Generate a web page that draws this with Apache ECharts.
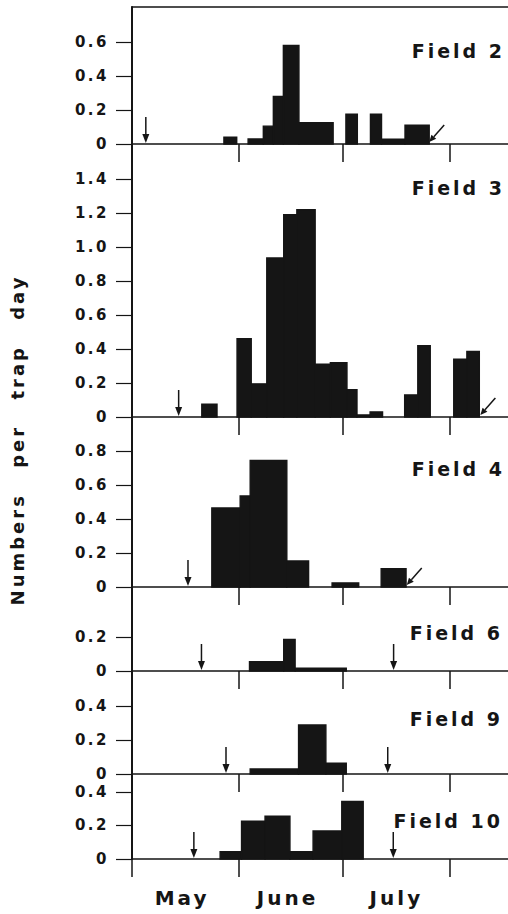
<!DOCTYPE html>
<html>
<head>
<meta charset="utf-8">
<title>Numbers per trap day</title>
<script src="https://cdn.jsdelivr.net/npm/echarts@6/dist/echarts.min.js"></script>
<style>
  html, body { margin: 0; padding: 0; background: #fff; }
  #main { width: 508px; height: 914px; }
  /* spaced-out lettering of the original figure */
  #main text[style*="15px"] { letter-spacing: 2.5px; }
  #main text[style*="19px"] { letter-spacing: 3px; }
  #main text[style*="20px"] { letter-spacing: 3px; }
  #main text[style*="18px"] { letter-spacing: 3px; word-spacing: 16px; }
</style>
</head>
<body>
<div id="main"></div>
<script>
// x = days since 1 May
var monthTicks = [0, 31, 61, 92];
var monthLabelDays = [14.5, 45, 76.5];
var monthNames = ['May', 'June', 'July'];

var fieldNames = ['Field 2', 'Field 3', 'Field 4', 'Field 6', 'Field 9', 'Field 10'];

// [start day, end day, numbers per trap day]
var field2Bars = [
  [26.6, 30.3, 0.04], [33.6, 38.0, 0.03], [38.0, 40.9, 0.105], [40.9, 43.8, 0.28],
  [43.8, 48.3, 0.58], [48.3, 58.2, 0.125], [61.9, 65.2, 0.175], [69.0, 72.2, 0.175],
  [72.2, 79.0, 0.028], [79.0, 86.0, 0.11]
];
var field3Bars = [
  [20.2, 24.6, 0.075], [30.4, 34.5, 0.46], [34.5, 39.0, 0.195], [39.0, 43.9, 0.935],
  [43.9, 47.7, 1.19], [47.7, 53.0, 1.22], [53.0, 57.4, 0.31], [57.4, 62.2, 0.32],
  [62.2, 65.1, 0.16], [65.1, 68.9, 0.012], [68.9, 72.5, 0.03], [78.9, 82.7, 0.13],
  [82.7, 86.3, 0.42], [93.1, 96.9, 0.34], [96.9, 100.5, 0.385]
];
var field4Bars = [
  [23.1, 31.3, 0.465], [31.3, 34.2, 0.535], [34.2, 44.8, 0.745], [44.8, 51.1, 0.153],
  [57.9, 65.6, 0.024], [72.1, 79.3, 0.108]
];
var field6Bars = [
  [34.0, 43.9, 0.055], [43.9, 47.2, 0.186], [47.2, 62.0, 0.016]
];
var field9Bars = [
  [34.2, 48.2, 0.03], [48.2, 56.1, 0.288], [56.1, 62.0, 0.063]
];
var field10Bars = [
  [25.5, 31.7, 0.043], [31.7, 38.5, 0.225], [38.5, 45.7, 0.255], [45.7, 52.4, 0.043],
  [52.4, 60.7, 0.167], [60.7, 66.9, 0.343]
];

// arrows (day positions)
var downArrows = [[4.0], [13.5], [16.2], [20.1, 75.7], [27.2, 74.0], [17.9, 75.6]];
var slantArrows = [[86.0], [100.8], [79.5], [], [], []];

var yMax = [0.806, 1.606, 1.0, 0.494, 0.606, 0.507];
var yTicks = [
  [0, 0.2, 0.4, 0.6],
  [0, 0.2, 0.4, 0.6, 0.8, 1.0, 1.2, 1.4],
  [0, 0.2, 0.4, 0.6, 0.8],
  [0, 0.2],
  [0, 0.2, 0.4],
  [0, 0.2, 0.4]
];

var allBars = [field2Bars, field3Bars, field4Bars, field6Bars, field9Bars, field10Bars];

// layout
var panelTop = [7, 144, 417, 587, 671, 774];
var panelHeight = [137, 273, 170, 84, 103, 85];
var labelY = [50.5, 187.5, 469, 633, 718.5, 820.5];
var labelRight = [505, 505, 505, 503, 503, 503];

var INK = '#151515';
var FONT = 'DejaVu Sans';

function renderBar(params, api) {
  var p0 = api.coord([api.value(0), 0]);
  var p1 = api.coord([api.value(1), api.value(2)]);
  return {
    type: 'rect',
    shape: { x: p0[0], y: p1[1], width: p1[0] - p0[0], height: p0[1] - p1[1] },
    style: { fill: INK, stroke: INK, lineWidth: 1.4 }
  };
}

function renderDownArrow(params, api) {
  var p = api.coord([api.value(0), 0]);
  return {
    type: 'group',
    children: [
      { type: 'line', shape: { x1: p[0], y1: p[1] - 27, x2: p[0], y2: p[1] - 7 },
        style: { stroke: INK, lineWidth: 1.5 } },
      { type: 'polygon', shape: { points: [[p[0] - 3.5, p[1] - 10], [p[0] + 3.5, p[1] - 10], [p[0], p[1] - 1]] },
        style: { fill: INK } }
    ]
  };
}

function renderSlantArrow(params, api) {
  var p = api.coord([api.value(0), 0]);
  var tx = p[0], ty = p[1] - 2;
  var sx = tx + 15, sy = ty - 17;
  var len = Math.sqrt(15 * 15 + 17 * 17);
  var ux = (tx - sx) / len, uy = (ty - sy) / len;
  var bx = tx - ux * 7, by = ty - uy * 7;
  var px = -uy, py = ux;
  return {
    type: 'group',
    children: [
      { type: 'line', shape: { x1: sx, y1: sy, x2: bx, y2: by }, style: { stroke: INK, lineWidth: 1.5 } },
      { type: 'polygon', shape: { points: [[bx + px * 3.2, by + py * 3.2], [bx - px * 3.2, by - py * 3.2], [tx, ty]] },
        style: { fill: INK } }
    ]
  };
}

var grids = [], xAxes = [], yAxes = [], series = [], graphics = [];

for (var i = 0; i < 6; i++) {
  grids.push({ left: 132, right: 0, top: panelTop[i], height: panelHeight[i], outerBoundsMode: 'none' });
  var isLast = i === 5;
  xAxes.push({
    type: 'value', gridIndex: i, min: 0, max: 108.8, position: 'bottom',
    splitLine: { show: false },
    axisLine: { show: true, onZero: false, lineStyle: { color: INK, width: 1.5 } },
    axisTick: { show: true, customValues: monthTicks, length: 18, lineStyle: { color: INK, width: 1.5 } },
    axisLabel: {
      show: isLast,
      customValues: monthLabelDays,
      margin: 29,
      color: INK, fontFamily: FONT, fontWeight: 'bold', fontSize: 20,
      formatter: function (v) {
        var k = monthLabelDays.indexOf(v);
        return k >= 0 ? monthNames[k] : '';
      }
    }
  });
  yAxes.push({
    type: 'value', gridIndex: i, min: 0, max: yMax[i],
    splitLine: { show: false },
    axisLine: { show: true, onZero: false, lineStyle: { color: INK, width: 2 } },
    axisTick: { show: true, customValues: yTicks[i], length: 16, lineStyle: { color: INK, width: 1.2 } },
    axisLabel: {
      customValues: yTicks[i],
      margin: 23,
      color: INK, fontFamily: FONT, fontWeight: 'bold', fontSize: 15, lineHeight: 15,
      formatter: function (v) { return v === 0 ? '0' : v.toFixed(1); }
    }
  });
  series.push({
    type: 'custom', name: fieldNames[i], xAxisIndex: i, yAxisIndex: i,
    renderItem: renderBar, encode: { x: [0, 1], y: 2 },
    data: allBars[i]
  });
  series.push({
    type: 'custom', xAxisIndex: i, yAxisIndex: i, renderItem: renderDownArrow,
    encode: { x: 0 }, data: downArrows[i].map(function (d) { return [d]; })
  });
  if (slantArrows[i].length) {
    series.push({
      type: 'custom', xAxisIndex: i, yAxisIndex: i, renderItem: renderSlantArrow,
      encode: { x: 0 }, data: slantArrows[i].map(function (d) { return [d]; })
    });
  }
  graphics.push({
    type: 'text', x: labelRight[i], y: labelY[i],
    style: {
      text: fieldNames[i], align: 'right', verticalAlign: 'middle',
      fill: INK, font: 'bold 19px "DejaVu Sans"'
    }
  });
}

// top frame line of the first panel
xAxes.push({
  type: 'value', gridIndex: 0, min: 0, max: 108.8, position: 'top',
  splitLine: { show: false },
  axisLine: { show: true, onZero: false, lineStyle: { color: INK, width: 1.5 } },
  axisTick: { show: false }, axisLabel: { show: false }
});

graphics.push({
  type: 'text', x: 17, y: 440, rotation: Math.PI / 2,
  style: {
    text: 'Numbers per trap day', align: 'center', verticalAlign: 'middle',
    fill: INK, font: 'bold 18px "DejaVu Sans"'
  }
});

var chart = echarts.init(document.getElementById('main'), null, { renderer: 'svg' });
chart.setOption({
  animation: false,
  backgroundColor: '#ffffff',
  grid: grids,
  xAxis: xAxes,
  yAxis: yAxes,
  series: series,
  graphic: graphics
});
</script>
</body>
</html>
